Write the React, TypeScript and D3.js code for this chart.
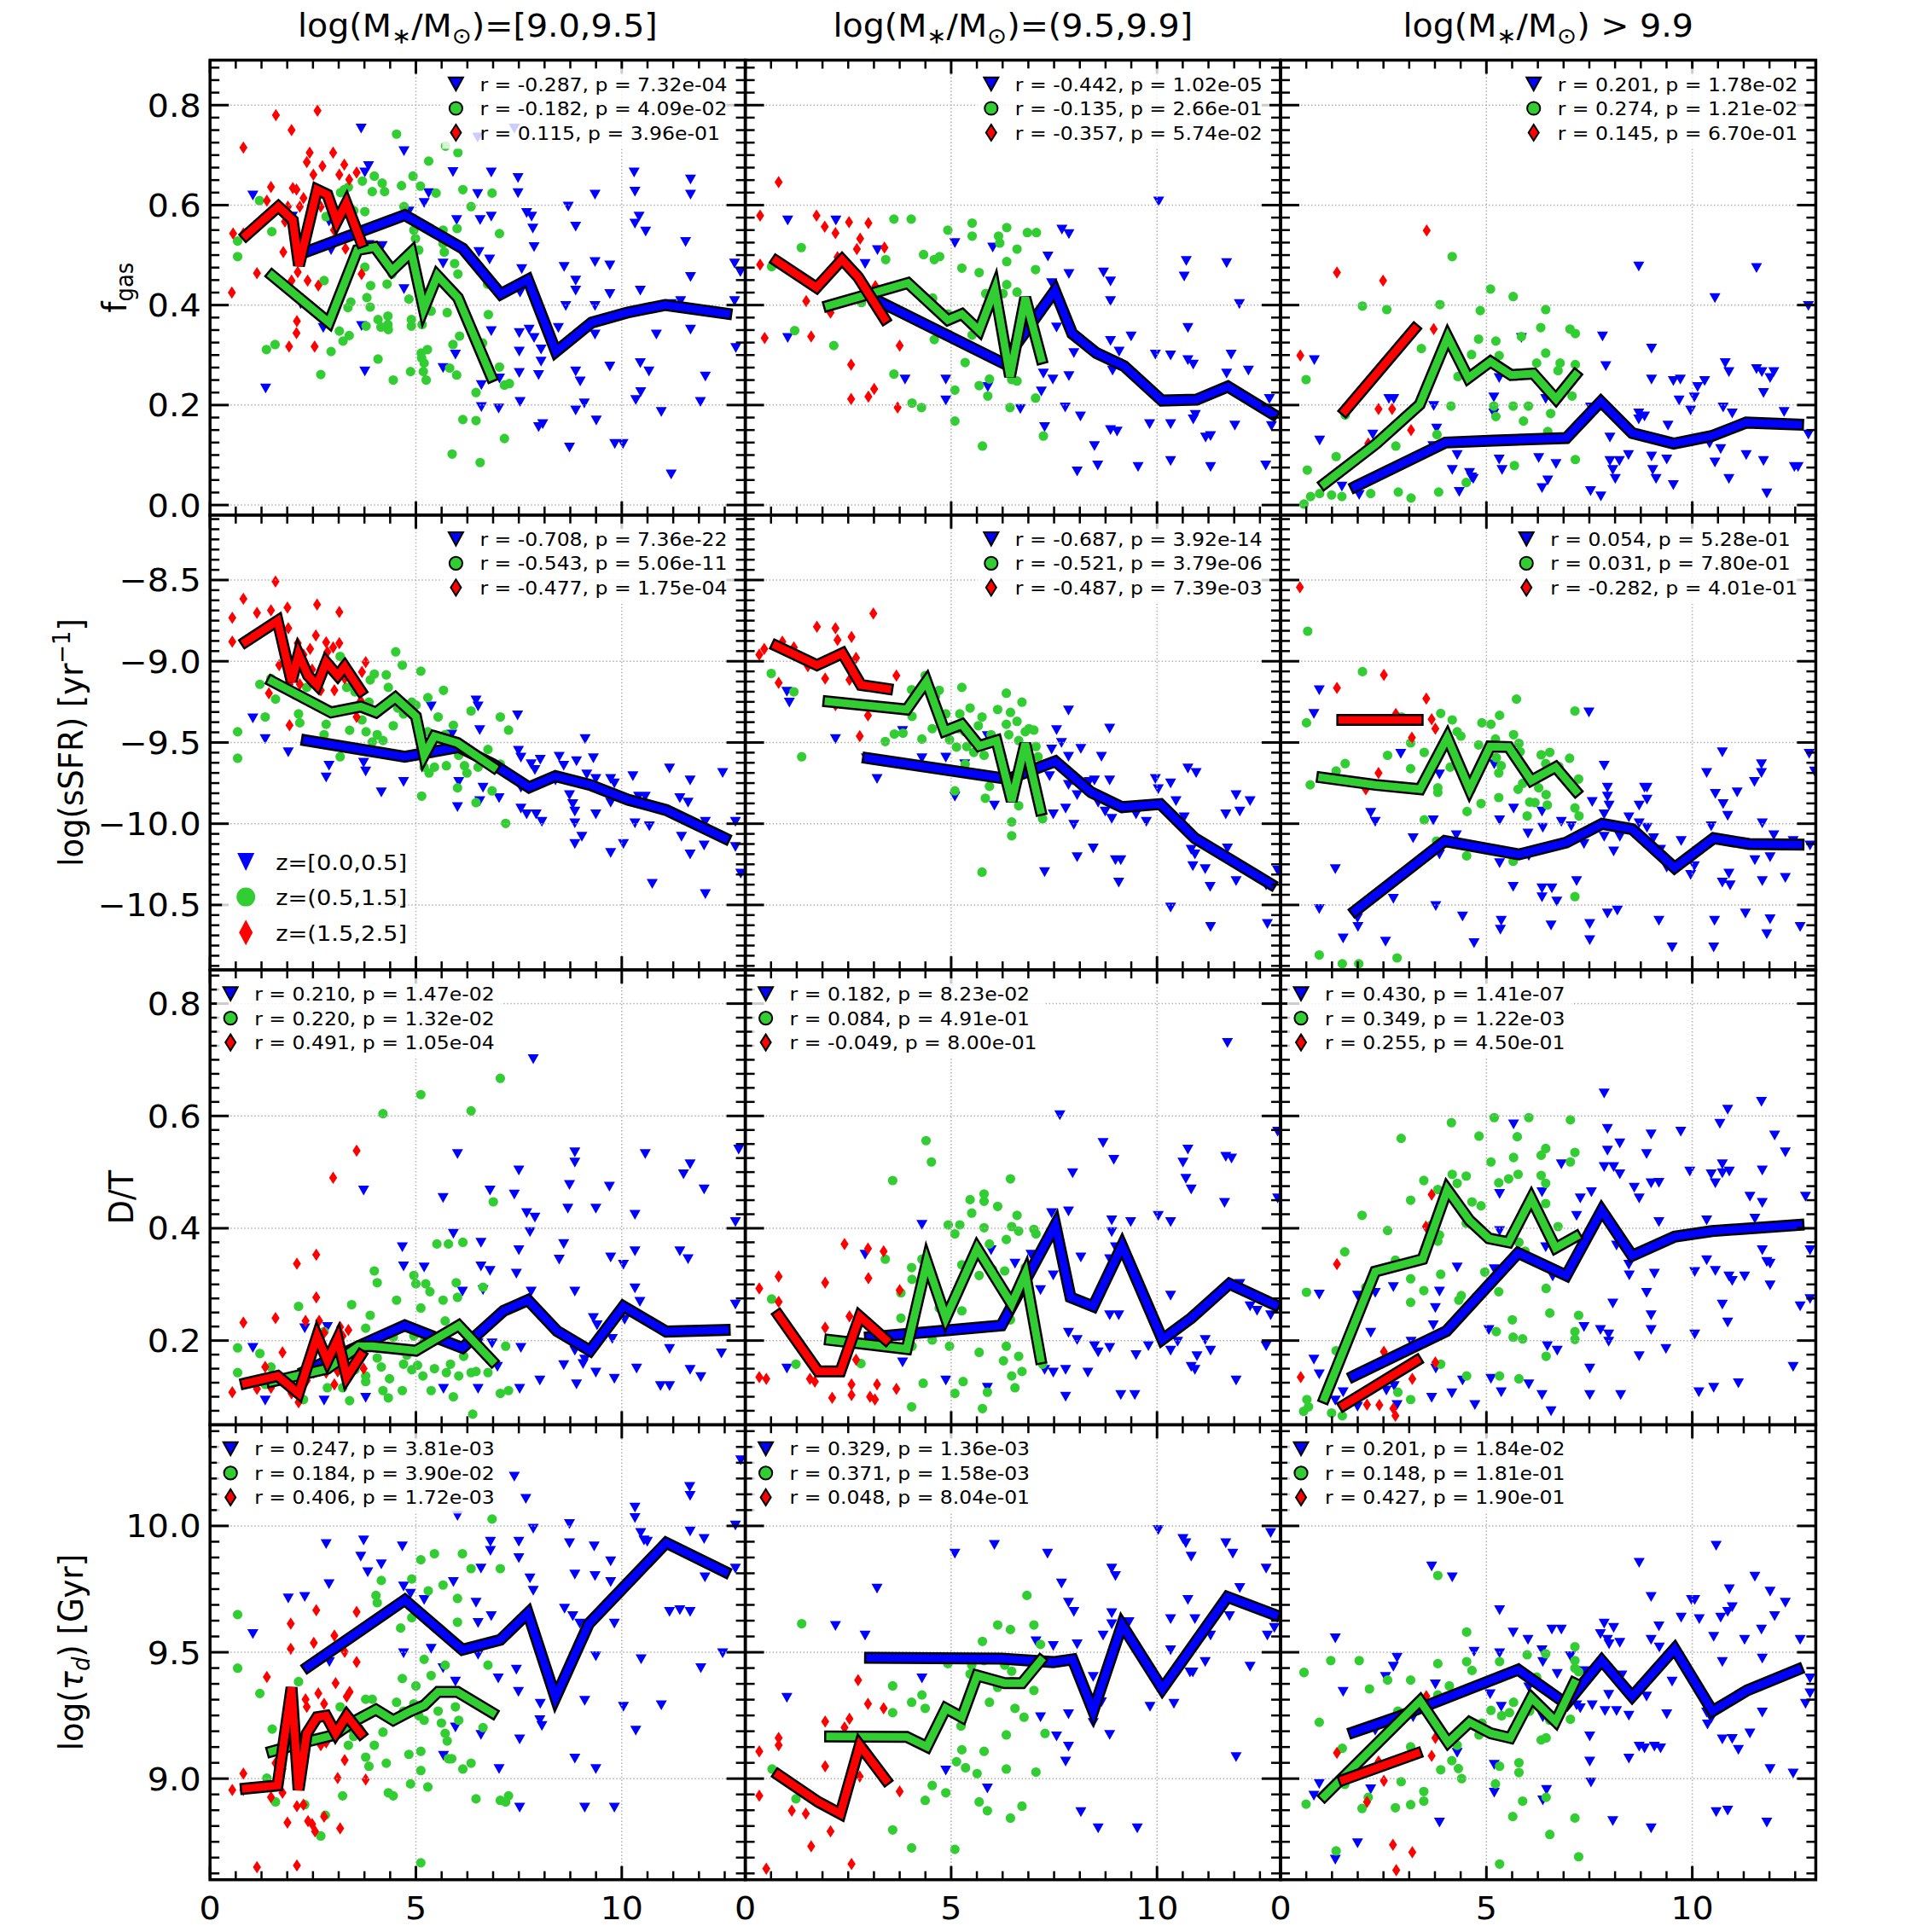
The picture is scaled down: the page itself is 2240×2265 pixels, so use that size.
import React from 'react';
import * as d3 from 'd3';

const W = 2240, H = 2265;
const SX = 1.07;
const FONT = '"DejaVu Sans", sans-serif';
const BIG = 37, LEG = 22, ZLEG = 25.5;
const BLUE = '#0000ff', GREEN = '#32cd32', RED = '#ff0000';

const colX0 = [246.2, 873.6, 1501.0];
const colW = 627.4;
const rowY0 = [70.5, 603.8, 1137.1, 1670.4];
const rowH = 533.3;

const xDomain: [number, number] = [0, 13];
const xMajor = [0, 5, 10];
const xTickLabels = ['0', '5', '10'];
const xMajorStep = 5;
const minorDiv = 8;
const yDomains: [number, number][] = [[-0.02, 0.89], [-10.9, -8.1], [0.05, 0.86], [8.6, 10.4]];
const yMajors = [[0, 0.2, 0.4, 0.6, 0.8], [-10.5, -10, -9.5, -9, -8.5], [0.2, 0.4, 0.6, 0.8], [9, 9.5, 10]];
const yTickLabels = [['0.0', '0.2', '0.4', '0.6', '0.8'], ['−10.5', '−10.0', '−9.5', '−9.0', '−8.5'], ['0.2', '0.4', '0.6', '0.8'], ['9.0', '9.5', '10.0']];
const yMajorStep = [0.2, 0.5, 0.2, 0.5];
const zLabels = ['z=[0.0,0.5]', 'z=(0.5,1.5]', 'z=(1.5,2.5]'];

// ---------- row 1: f_gas ----------
const fgasLowBlue = [1.04,0.619,1.35,0.233,2.00,0.577,2.20,0.402,2.75,0.354,2.89,0.567,2.94,0.510,3.67,0.753,3.76,0.665,3.85,0.678,3.76,0.267,3.68,0.358,3.86,0.520,4.18,0.518,4.71,0.708,4.71,0.432,4.83,0.587,5.20,0.604,5.31,0.624,5.66,0.483,5.66,0.274,5.90,0.666,5.96,0.301,5.99,0.570,6.50,0.622,6.53,0.506,6.56,0.570,6.59,0.240,6.59,0.196,6.83,0.665,6.83,0.348,6.79,0.491,6.83,0.577,7.01,0.193,7.03,0.253,7.48,0.654,7.48,0.624,7.51,0.344,7.51,0.307,7.51,0.264,7.53,0.206,7.53,0.425,7.57,0.472,7.69,0.584,7.75,0.351,7.81,0.577,7.84,0.553,7.87,0.516,7.87,0.334,7.98,0.260,7.98,0.156,8.04,0.311,8.04,0.287,8.08,0.162,8.46,0.354,8.60,0.476,8.64,0.398,8.70,0.597,8.73,0.115,8.88,0.557,8.88,0.449,8.88,0.429,8.88,0.267,8.88,0.189,8.99,0.247,9.09,0.203,9.35,0.621,9.35,0.486,9.35,0.398,9.35,0.341,9.38,0.169,9.71,0.479,9.71,0.422,9.71,0.277,9.83,0.122,10.03,0.122,10.30,0.665,10.32,0.627,10.32,0.563,10.42,0.577,10.45,0.429,10.45,0.284,10.46,0.226,10.34,0.210,10.66,0.267,10.84,0.341,10.96,0.186,11.20,0.061,11.55,0.526,11.67,0.651,11.67,0.621,11.67,0.456,11.67,0.351,11.91,0.206,12.03,0.257,12.74,0.483,12.77,0.314,12.74,0.408,12.88,0.466,11.43,0.408,10.58,0.547,10.24,0.385,11.20,0.402,6.50,0.735,7.39,0.753];
const fgasLowGreen = [0.67,0.528,0.67,0.497,1.20,0.609,1.37,0.311,1.50,0.547,1.58,0.321,2.69,0.261,2.77,0.449,2.82,0.577,2.94,0.307,3.14,0.348,3.17,0.625,3.23,0.328,3.26,0.631,3.35,0.395,3.36,0.636,3.38,0.339,3.42,0.406,3.49,0.589,3.70,0.648,3.76,0.587,3.76,0.476,3.79,0.358,3.81,0.415,3.89,0.396,3.90,0.439,3.94,0.627,3.99,0.658,4.08,0.292,4.08,0.371,4.15,0.356,4.18,0.644,4.24,0.627,4.30,0.442,4.32,0.378,4.32,0.361,4.33,0.351,4.42,0.462,4.45,0.250,4.53,0.742,4.65,0.639,4.71,0.597,4.83,0.412,4.87,0.267,4.89,0.371,4.89,0.358,4.93,0.658,4.95,0.550,4.99,0.533,5.07,0.510,5.11,0.638,5.13,0.304,5.14,0.294,5.15,0.361,5.18,0.267,5.20,0.284,5.25,0.250,5.28,0.311,5.31,0.688,5.37,0.388,5.49,0.624,5.66,0.550,5.66,0.523,5.69,0.506,5.72,0.718,5.76,0.385,5.82,0.274,5.88,0.102,5.90,0.321,5.94,0.483,5.99,0.260,6.00,0.553,6.02,0.705,6.02,0.462,6.06,0.338,6.14,0.631,6.14,0.171,6.34,0.597,6.46,0.225,6.46,0.169,6.56,0.085,6.62,0.324,6.74,0.442,6.76,0.381,6.85,0.624,7.03,0.543,7.03,0.276,7.15,0.240,7.15,0.133,7.27,0.243];
const fgasLowRed = [0.56,0.543,0.81,0.715,0.81,0.543,1.14,0.464,0.53,0.425,1.48,0.636,1.38,0.609,1.60,0.780,1.78,0.506,1.82,0.567,1.89,0.597,1.98,0.750,2.01,0.634,2.10,0.631,1.92,0.317,2.11,0.368,2.10,0.344,2.13,0.466,2.27,0.614,2.35,0.686,2.42,0.705,2.51,0.661,2.61,0.789,2.73,0.678,2.77,0.624,2.99,0.705,3.01,0.550,3.14,0.661,3.26,0.681,3.38,0.651,3.29,0.513,3.56,0.665,3.68,0.462,2.63,0.439,2.54,0.317,2.37,0.449,2.18,0.597,1.98,0.449,2.69,0.597];
const fgasLowBlueLine = [2.25,0.504,4.73,0.580,6.14,0.513,7.06,0.422,7.72,0.451,8.40,0.307,9.27,0.365,10.13,0.385,11.05,0.400,12.54,0.383];
const fgasLowGreenLine = [1.51,0.459,2.89,0.365,3.58,0.510,4.00,0.516,4.42,0.469,4.89,0.506,5.19,0.392,5.52,0.459,6.02,0.415,6.83,0.257];
const fgasLowRedLine = [0.88,0.540,1.66,0.597,2.01,0.570,2.16,0.479,2.60,0.631,2.85,0.621,3.08,0.567,3.31,0.604,3.67,0.526];

const fgasMidBlue = [1.03,0.569,2.20,0.569,1.03,0.334,2.91,0.482,3.21,0.510,5.09,0.524,6.01,0.515,7.69,0.551,7.86,0.542,7.35,0.497,7.86,0.462,8.70,0.465,8.87,0.447,8.87,0.408,7.44,0.444,7.56,0.355,7.98,0.304,8.87,0.328,9.08,0.307,9.37,0.337,8.92,0.269,9.03,0.284,9.96,0.301,10.33,0.299,10.75,0.290,10.88,0.281,11.80,0.301,12.22,0.269,11.69,0.263,10.75,0.354,10.71,0.488,10.66,0.457,11.69,0.484,12.00,0.402,10.04,0.607,7.24,0.263,7.47,0.251,7.86,0.258,7.19,0.227,4.87,0.251,4.87,0.209,3.88,0.251,5.89,0.236,6.68,0.192,7.77,0.195,8.14,0.177,7.27,0.156,8.87,0.150,9.03,0.147,8.48,0.118,9.82,0.162,10.33,0.162,10.88,0.171,10.93,0.180,11.18,0.135,11.30,0.138,11.89,0.159,12.78,0.158,12.73,0.212,8.06,0.067,8.56,0.079,9.54,0.076,10.33,0.088,11.30,0.076,12.64,0.079];
const fgasMidGreen = [0.64,0.477,1.36,0.515,1.20,0.349,2.15,0.319,2.82,0.405,3.41,0.491,3.61,0.572,4.03,0.572,4.33,0.501,4.72,0.497,4.92,0.550,5.26,0.474,5.51,0.564,5.51,0.538,5.68,0.465,6.15,0.538,6.18,0.524,6.35,0.555,6.35,0.487,6.60,0.512,6.85,0.545,7.07,0.545,7.05,0.471,6.35,0.441,6.26,0.423,5.84,0.423,6.60,0.426,4.55,0.414,4.42,0.358,4.59,0.331,4.67,0.346,4.92,0.382,5.34,0.376,5.51,0.340,5.34,0.285,5.09,0.230,5.09,0.168,5.76,0.118,5.93,0.252,5.68,0.239,5.89,0.218,6.47,0.251,6.60,0.248,6.43,0.195,7.05,0.214,7.24,0.138,4.05,0.204,4.28,0.195,3.61,0.262,3.38,0.389,4.59,0.491];
const fgasMidRed = [0.36,0.579,0.81,0.646,0.36,0.481,1.73,0.579,1.93,0.557,2.19,0.544,2.52,0.566,2.99,0.564,2.79,0.533,2.71,0.512,3.38,0.515,2.24,0.496,1.48,0.408,2.07,0.385,0.47,0.334,1.60,0.337,2.57,0.281,3.75,0.319,2.57,0.212,2.99,0.217,3.13,0.232,3.70,0.195,3.16,0.438];
const fgasMidBlueLine = [3.16,0.411,6.26,0.284,7.52,0.429,7.94,0.343,8.53,0.304,9.20,0.278,10.12,0.209,10.96,0.211,11.72,0.237,12.81,0.182];
const fgasMidGreenLine = [2.03,0.399,3.95,0.444,4.92,0.370,5.26,0.382,5.68,0.349,6.06,0.432,6.43,0.257,6.80,0.415,7.19,0.293];
const fgasMidRedLine = [0.76,0.488,1.73,0.435,2.35,0.491,2.74,0.456,3.38,0.373];

const fgasHighBlue = [0.82,0.290,0.95,0.129,1.49,0.037,1.91,0.020,2.24,0.141,2.63,0.212,3.70,0.118,3.72,0.198,3.79,0.153,4.29,0.100,4.17,0.070,4.34,0.026,4.59,0.064,4.64,0.055,4.68,0.052,5.31,0.254,5.31,0.091,5.18,0.215,5.38,0.070,5.85,0.334,6.27,0.094,6.35,0.034,6.49,0.049,6.69,0.082,7.53,0.195,7.53,0.028,7.78,0.017,7.78,0.198,7.82,0.337,7.90,0.278,8.00,0.135,8.00,0.088,8.23,0.088,8.07,0.070,8.13,0.052,8.45,0.100,8.70,0.477,8.70,0.183,8.84,0.177,9.01,0.313,9.01,0.251,9.01,0.097,9.04,0.070,9.12,0.052,9.38,0.091,9.41,0.159,9.54,0.040,9.68,0.209,9.71,0.251,9.96,0.189,10.05,0.215,10.13,0.236,10.30,0.248,10.42,0.123,10.55,0.414,10.55,0.085,10.69,0.112,10.75,0.195,10.80,0.284,10.89,0.266,10.89,0.052,10.97,0.183,11.31,0.100,11.56,0.474,11.56,0.272,11.69,0.266,11.73,0.224,11.73,0.088,11.89,0.254,11.98,0.266,11.81,0.023,12.23,0.186,12.48,0.076,12.57,0.076,12.82,0.141,12.82,0.398,9.54,0.248,8.70,0.171,5.18,0.183,6.44,0.212,2.75,0.212];
const fgasHighGreen = [0.62,0.251,0.65,0.070,0.57,0.002,0.73,0.017,0.95,0.023,1.24,0.020,1.35,0.097,1.49,0.017,1.57,0.180,1.99,0.398,2.19,0.023,2.58,0.391,2.80,0.118,2.86,0.026,3.17,0.014,3.42,0.313,3.80,0.141,3.84,0.026,3.87,0.401,4.17,0.497,4.14,0.198,4.51,0.045,4.64,0.301,4.81,0.332,4.85,0.389,5.10,0.432,5.18,0.198,5.23,0.328,5.23,0.177,5.31,0.299,5.65,0.417,5.65,0.198,5.68,0.079,5.85,0.337,5.90,0.168,6.02,0.198,6.22,0.284,6.32,0.355,6.44,0.391,6.44,0.304,6.49,0.147,6.56,0.183,6.74,0.269,6.79,0.284,7.03,0.352,7.16,0.343,7.16,0.281,7.08,0.218,7.16,0.091,4.31,0.257];
const fgasHighRed = [0.48,0.299,1.37,0.465,2.49,0.449,3.55,0.549,3.72,0.352,2.38,0.192,2.71,0.192,3.17,0.150,2.13,0.123];
const fgasHighBlueLine = [1.82,0.037,4.01,0.125,5.18,0.129,6.94,0.134,7.78,0.207,8.54,0.144,9.55,0.123,10.47,0.138,11.31,0.165,12.57,0.161];
const fgasHighGreenLine = [1.07,0.043,2.33,0.123,3.38,0.201,4.06,0.336,4.56,0.254,5.10,0.287,5.60,0.260,6.14,0.263,6.69,0.212,7.16,0.260];
const fgasHighRedLine = [1.57,0.189,3.25,0.352];

// ---------- row 2: log(sSFR) ----------
const ssfrLowBlue = [1.04,-9.352,1.34,-9.479,1.90,-9.561,2.82,-9.716,2.89,-9.643,3.73,-9.625,3.78,-9.679,4.16,-9.807,4.70,-9.743,5.37,-9.279,5.87,-9.452,6.01,-9.898,6.04,-9.743,6.46,-9.242,6.51,-9.279,6.55,-9.424,6.55,-9.861,6.63,-9.779,7.02,-9.843,7.47,-9.333,7.49,-9.552,7.55,-9.594,7.55,-9.779,7.55,-9.907,7.69,-9.943,7.80,-9.634,7.89,-9.670,7.92,-9.943,8.06,-9.989,8.02,-9.606,8.48,-9.588,8.59,-9.643,8.73,-9.825,8.81,-9.879,8.86,-9.925,8.86,-9.998,8.86,-10.125,8.90,-9.616,9.03,-10.080,9.11,-9.479,9.15,-9.697,9.31,-9.597,9.37,-9.725,9.37,-9.943,9.73,-9.725,9.73,-9.870,9.82,-9.752,10.04,-10.125,9.73,-10.180,10.27,-9.707,10.32,-9.998,10.41,-9.834,10.49,-9.870,10.57,-9.834,10.67,-10.016,10.74,-10.371,11.16,-9.661,11.41,-9.843,11.45,-10.080,11.61,-9.870,11.66,-9.734,11.66,-10.189,12.00,-10.134,12.03,-10.434,12.03,-9.989,12.45,-9.688,12.76,-9.989,12.76,-10.143,12.89,-10.307,8.39,-9.734];
const ssfrLowGreen = [0.67,-9.434,0.67,-9.597,1.21,-9.142,1.34,-9.343,1.48,-9.106,1.59,-9.233,2.15,-9.324,2.18,-9.379,2.35,-9.161,2.77,-9.452,2.82,-9.388,3.16,-8.970,3.16,-9.588,3.32,-9.161,3.39,-9.425,3.52,-9.188,3.69,-9.361,3.86,-9.252,3.89,-9.115,3.99,-9.079,4.06,-9.452,4.20,-9.488,4.28,-9.084,4.33,-9.161,4.45,-9.397,4.51,-8.942,4.56,-9.288,4.67,-9.024,4.70,-9.324,4.90,-9.252,5.00,-9.270,5.12,-9.061,5.14,-9.830,5.20,-9.652,5.29,-9.224,5.32,-9.688,5.45,-9.652,5.54,-9.343,5.67,-9.179,5.71,-9.452,5.74,-9.643,5.91,-9.394,6.01,-9.779,6.04,-9.579,6.18,-9.643,6.24,-9.688,6.34,-9.306,6.46,-9.870,6.51,-9.652,6.75,-9.543,6.85,-9.798,7.05,-9.343,7.05,-9.634,7.18,-9.998,7.25,-9.424,5.24,-9.506,5.29,-9.434,3.94,-9.497,3.79,-9.434];
const ssfrLowRed = [0.54,-8.733,0.54,-8.879,0.81,-8.615,0.81,-8.884,1.14,-8.702,1.48,-8.687,1.59,-8.509,1.88,-8.669,1.90,-8.797,2.13,-8.888,2.27,-8.960,2.43,-8.924,2.60,-8.651,2.57,-8.842,2.82,-8.884,2.85,-8.942,2.99,-8.915,3.14,-8.697,3.14,-8.888,3.19,-9.033,3.27,-9.106,3.02,-9.179,2.69,-9.179,2.43,-9.124,2.18,-9.142,1.93,-9.142,1.68,-9.024,1.43,-9.197,2.01,-9.197,3.78,-9.006,3.69,-9.066,3.66,-9.243,3.56,-9.343,1.93,-9.394,2.22,-8.951,2.48,-9.051];
const ssfrLowBlueLine = [2.35,-9.488,4.73,-9.588,6.04,-9.528,6.88,-9.634,7.75,-9.776,8.39,-9.707,9.23,-9.761,10.15,-9.852,11.08,-9.916,12.50,-10.089];
const ssfrLowGreenLine = [1.51,-9.124,2.94,-9.315,3.66,-9.279,4.03,-9.315,4.50,-9.224,5.00,-9.339,5.20,-9.579,5.45,-9.461,6.01,-9.503,6.88,-9.652];
const ssfrLowRedLine = [0.87,-8.879,1.64,-8.751,1.98,-9.124,2.15,-8.957,2.38,-9.088,2.60,-9.146,2.82,-9.006,3.10,-9.088,3.27,-9.033,3.66,-9.182];

const ssfrMidBlue = [1.01,-9.188,1.07,-9.255,2.19,-9.479,2.94,-9.597,3.20,-9.725,3.82,-9.430,4.29,-9.597,4.87,-9.594,5.09,-9.834,5.33,-9.634,5.88,-9.461,6.05,-9.889,7.27,-10.298,7.39,-9.707,7.44,-9.543,7.48,-9.943,7.56,-9.424,7.68,-9.503,7.78,-9.907,7.85,-9.303,7.85,-9.588,7.85,-9.761,7.95,-9.734,7.98,-10.007,8.06,-9.825,8.15,-9.539,8.35,-9.743,8.45,-10.152,8.48,-9.734,8.57,-9.870,8.65,-9.588,8.74,-9.925,8.85,-9.415,8.85,-9.734,8.90,-9.970,8.99,-10.225,9.07,-10.362,9.15,-9.907,9.49,-9.943,9.74,-9.989,9.96,-9.725,10.03,-9.788,10.33,-9.752,10.46,-9.861,10.66,-9.961,10.75,-9.661,10.83,-10.161,10.92,-10.189,10.87,-10.262,10.95,-9.688,11.17,-10.280,11.29,-10.389,10.33,-10.516,11.30,-10.635,11.67,-9.943,11.71,-10.152,11.92,-9.825,11.92,-10.353,12.01,-9.925,12.26,-9.861,12.65,-10.380,12.68,-10.617,12.93,-10.289,8.06,-10.207,9.12,-10.225];
const ssfrMidGreen = [0.63,-9.075,1.18,-9.188,1.37,-9.588,3.40,-9.494,3.62,-9.448,3.83,-9.443,4.04,-9.175,4.05,-9.339,4.29,-9.479,4.37,-9.088,4.40,-9.142,4.54,-9.415,4.62,-9.215,4.71,-9.179,4.87,-9.324,4.96,-9.483,5.13,-9.528,5.18,-9.415,5.21,-9.324,5.26,-9.161,5.33,-9.434,5.38,-9.525,5.46,-9.288,5.51,-9.461,5.55,-9.561,5.66,-9.397,5.75,-9.343,5.80,-9.579,5.83,-9.506,5.93,-9.770,5.83,-9.843,5.97,-9.452,6.13,-9.297,6.22,-9.579,6.34,-9.197,6.34,-9.388,6.40,-9.452,6.44,-9.315,6.47,-9.989,6.47,-10.074,6.60,-9.370,6.64,-9.488,6.64,-9.889,6.72,-9.252,6.80,-9.434,6.84,-9.588,6.89,-9.415,7.01,-9.424,7.06,-9.525,7.11,-9.588,7.22,-9.970,5.75,-10.298,5.09,-9.798,5.34,-9.634];
const ssfrMidRed = [0.34,-8.960,0.46,-8.924,0.81,-9.133,0.90,-8.879,1.18,-8.915,1.52,-9.030,1.74,-8.788,1.94,-9.106,2.19,-8.797,2.24,-8.869,2.58,-8.851,2.69,-8.979,2.53,-9.115,3.11,-8.706,2.98,-9.333,2.78,-9.461,3.67,-9.088,2.19,-9.270];
const ssfrMidBlueLine = [2.98,-9.597,6.39,-9.725,7.53,-9.616,8.40,-9.807,9.15,-9.898,10.08,-9.879,10.92,-10.089,12.76,-10.371];
const ssfrMidGreenLine = [2.02,-9.248,3.92,-9.297,4.40,-9.124,4.84,-9.430,5.26,-9.388,5.68,-9.521,6.10,-9.488,6.47,-9.861,6.80,-9.506,7.17,-9.916];
const ssfrMidRedLine = [0.76,-8.906,1.74,-9.024,2.36,-8.951,2.81,-9.146,3.45,-9.170];

const ssfrHighBlue = [0.94,-9.179,0.81,-9.324,2.92,-9.570,0.94,-10.525,1.33,-10.280,1.52,-10.707,1.87,-10.580,1.88,-10.635,2.19,-9.934,2.30,-9.989,2.55,-10.726,2.74,-10.462,3.22,-10.089,3.71,-9.980,3.77,-10.507,3.86,-9.697,3.86,-10.189,4.27,-10.071,4.42,-10.571,4.70,-10.735,5.19,-9.634,5.32,-9.980,5.32,-10.243,5.36,-10.598,5.34,-10.653,5.65,-10.389,5.66,-9.907,6.01,-10.061,6.03,-10.198,6.37,-10.025,6.35,-9.925,6.35,-10.398,6.35,-10.453,6.59,-10.398,6.57,-10.626,6.71,-10.480,6.82,-9.989,7.06,-10.016,7.19,-10.353,7.37,-10.125,7.51,-10.617,7.51,-10.717,7.49,-9.315,7.57,-9.867,7.86,-9.643,7.86,-9.943,7.86,-10.080,7.94,-9.779,7.94,-9.834,7.94,-10.553,7.98,-9.889,8.09,-10.171,8.18,-10.535,8.24,-10.080,8.46,-9.961,8.71,-9.998,8.71,-9.889,8.84,-9.779,8.90,-9.779,8.90,-9.852,8.90,-10.025,9.06,-10.089,9.19,-10.598,9.23,-10.161,9.38,-10.271,9.51,-10.762,9.73,-10.107,9.96,-10.316,10.05,-10.262,10.35,-9.688,10.46,-10.016,10.56,-9.816,10.54,-10.598,10.52,-10.762,10.73,-9.561,10.75,-9.879,10.73,-10.362,10.86,-9.952,10.89,-10.307,10.92,-10.380,11.09,-9.807,11.29,-10.553,11.51,-9.743,11.52,-10.225,11.68,-9.634,11.68,-9.688,11.70,-9.998,11.70,-10.353,11.81,-10.680,11.89,-10.207,11.89,-10.589,11.98,-10.071,12.26,-10.334,12.45,-10.107,12.62,-10.635,12.84,-9.570,12.86,-10.134,12.97,-9.679];
const ssfrHighGreen = [0.66,-8.815,0.63,-9.379,0.72,-9.761,1.35,-9.676,1.57,-9.630,1.99,-9.064,2.60,-9.579,2.94,-9.343,3.16,-9.503,3.16,-9.661,3.49,-9.561,3.49,-9.976,3.82,-9.779,3.82,-9.807,3.89,-9.321,4.12,-9.652,4.17,-9.361,4.29,-9.434,4.38,-9.461,4.53,-9.925,4.63,-9.788,4.81,-9.515,4.87,-9.876,4.89,-9.379,5.11,-9.388,5.22,-9.479,5.24,-9.594,5.30,-9.688,5.30,-9.839,5.32,-9.333,5.36,-9.643,5.65,-10.231,5.66,-9.452,5.73,-9.233,5.77,-9.788,5.79,-9.506,5.82,-9.557,5.88,-9.752,5.99,-9.952,6.05,-9.867,6.18,-9.870,6.27,-9.779,6.33,-9.576,6.44,-9.630,6.45,-9.821,6.48,-9.885,6.54,-9.561,6.76,-9.648,7.02,-9.597,7.15,-9.306,7.15,-9.903,7.24,-9.725,7.25,-9.952,7.15,-10.449,3.79,-10.107,4.52,-10.198,0.94,-10.808,1.50,-10.862,1.90,-10.862,2.83,-10.826];
const ssfrHighRed = [0.47,-8.545,1.37,-9.164,2.51,-9.084,3.54,-9.230,2.80,-9.324,3.67,-9.357,3.76,-9.415,3.19,-9.470,2.38,-9.688,2.07,-9.788];
const ssfrHighBlueLine = [1.82,-10.535,3.99,-10.107,5.79,-10.189,6.94,-10.116,7.81,-10.001,8.54,-10.034,9.57,-10.271,10.52,-10.089,11.38,-10.125,12.58,-10.129];
const ssfrHighGreenLine = [1.01,-9.716,2.31,-9.761,3.39,-9.788,4.05,-9.470,4.59,-9.788,5.09,-9.525,5.54,-9.528,6.09,-9.734,6.68,-9.652,7.17,-9.798];
const ssfrHighRedLine = [1.50,-9.361,3.33,-9.361];

// ---------- row 3: D/T ----------
const dtLowBlue = [1.04,0.187,1.34,0.093,2.30,0.222,2.77,0.093,2.85,0.224,3.73,0.467,3.78,0.098,4.67,0.366,4.70,0.332,5.20,0.330,5.45,0.206,5.66,0.454,5.67,0.114,5.91,0.390,6.01,0.532,6.13,0.287,6.51,0.195,6.51,0.114,6.58,0.332,6.58,0.374,6.63,0.290,6.80,0.467,6.80,0.324,6.85,0.195,6.98,0.153,7.39,0.460,7.44,0.319,7.50,0.503,7.50,0.361,7.52,0.114,7.55,0.187,7.69,0.427,7.77,0.393,7.80,0.287,7.89,0.419,8.01,0.129,8.48,0.344,8.59,0.372,8.59,0.156,8.69,0.435,8.73,0.477,8.86,0.535,8.86,0.517,8.86,0.287,8.86,0.182,8.90,0.122,9.06,0.158,9.10,0.166,9.31,0.240,9.37,0.435,9.37,0.143,9.70,0.474,9.73,0.348,9.77,0.203,9.82,0.132,10.04,0.335,10.32,0.424,10.32,0.359,10.32,0.293,10.36,0.150,10.44,0.269,10.57,0.532,10.94,0.119,11.16,0.185,11.16,0.119,11.41,0.359,11.50,0.496,11.61,0.345,11.66,0.514,11.66,0.148,11.92,0.135,12.00,0.469,12.42,0.177,12.76,0.411,12.76,0.264,12.84,0.540,7.85,0.701,9.40,0.227,10.07,0.237];
const dtLowGreen = [0.67,0.187,0.67,0.143,1.21,0.177,1.34,0.122,1.48,0.153,2.15,0.261,2.27,0.095,2.35,0.148,2.77,0.216,2.77,0.153,2.85,0.116,3.22,0.116,3.39,0.093,3.44,0.264,3.52,0.148,3.78,0.222,3.78,0.137,3.78,0.127,3.89,0.245,3.99,0.324,4.06,0.303,4.06,0.169,4.16,0.153,4.20,0.111,4.33,0.098,4.36,0.132,4.53,0.272,4.67,0.111,4.78,0.174,4.90,0.148,4.95,0.316,5.00,0.301,5.04,0.156,5.12,0.258,5.17,0.137,5.24,0.301,5.34,0.287,5.37,0.111,5.45,0.150,5.51,0.372,5.66,0.272,5.71,0.235,5.74,0.143,5.79,0.372,5.84,0.158,5.91,0.100,5.98,0.303,6.01,0.277,6.04,0.137,6.14,0.375,6.16,0.172,6.34,0.143,6.38,0.069,6.46,0.145,6.63,0.295,6.75,0.143,6.88,0.447,7.05,0.667,7.05,0.106,7.18,0.190,7.25,0.111,5.12,0.638,4.20,0.604,6.34,0.609,4.95,0.208,4.45,0.206,5.20,0.198,4.70,0.158];
const dtLowRed = [0.54,0.108,0.81,0.232,1.14,0.114,1.34,0.153,1.48,0.116,1.59,0.240,1.76,0.179,1.93,0.114,1.98,0.106,2.11,0.337,2.15,0.090,2.32,0.235,2.38,0.158,2.52,0.143,2.58,0.353,2.58,0.277,2.65,0.235,2.77,0.214,2.99,0.490,3.02,0.122,3.10,0.145,3.16,0.224,3.22,0.208,3.27,0.135,3.36,0.219,3.56,0.538,3.66,0.172,3.73,0.150,3.44,0.179,2.35,0.129,2.82,0.143];
const dtLowBlueLine = [2.30,0.145,3.69,0.193,4.73,0.227,6.13,0.187,7.13,0.253,7.72,0.272,8.43,0.217,9.23,0.182,10.04,0.261,11.08,0.216,12.50,0.219];
const dtLowGreenLine = [1.51,0.127,2.85,0.150,3.61,0.190,3.94,0.190,5.00,0.182,6.04,0.227,6.85,0.164];
const dtLowRedLine = [0.87,0.124,1.64,0.137,2.15,0.106,2.60,0.208,2.85,0.164,3.10,0.203,3.32,0.135,3.66,0.174];

const dtMidBlue = [1.01,0.150,2.91,0.353,3.82,0.161,4.29,0.406,4.87,0.129,5.88,0.116,5.97,0.361,7.17,0.290,7.27,0.148,7.44,0.427,7.48,0.316,7.64,0.601,7.78,0.148,7.78,0.100,7.85,0.430,7.85,0.214,7.95,0.498,8.06,0.201,8.15,0.348,8.18,0.266,8.48,0.190,8.57,0.179,8.69,0.552,8.85,0.345,8.85,0.187,8.85,0.245,8.90,0.414,8.95,0.522,8.90,0.393,8.99,0.337,9.07,0.245,9.12,0.103,9.36,0.411,9.46,0.103,9.49,0.174,9.79,0.190,10.03,0.422,10.33,0.182,10.33,0.411,10.33,0.280,10.50,0.198,10.63,0.517,10.70,0.488,10.75,0.540,10.83,0.469,10.83,0.153,10.92,0.148,10.97,0.172,11.17,0.201,11.30,0.182,11.64,0.445,11.67,0.527,11.71,0.730,11.81,0.524,11.92,0.129,12.01,0.301,12.26,0.261,12.43,0.253,12.65,0.190,12.76,0.245,12.93,0.453,12.93,0.572,8.32,0.143,8.99,0.366,7.48,0.143,6.94,0.353,6.55,0.337];
const dtMidGreen = [0.64,0.274,1.23,0.158,2.81,0.159,3.40,0.345,3.58,0.485,3.78,0.285,4.05,0.309,4.04,0.330,4.05,0.190,4.29,0.345,4.32,0.124,4.39,0.556,4.52,0.518,4.54,0.201,4.71,0.258,4.93,0.406,4.96,0.190,5.09,0.390,5.09,0.106,5.21,0.406,5.26,0.335,5.29,0.127,5.46,0.451,5.50,0.427,5.68,0.316,5.68,0.179,5.80,0.461,5.80,0.448,5.80,0.401,5.88,0.108,5.93,0.372,6.00,0.327,6.13,0.439,6.27,0.164,6.30,0.324,6.34,0.380,6.34,0.190,6.44,0.488,6.47,0.403,6.47,0.137,6.60,0.423,6.64,0.395,6.64,0.172,6.72,0.145,6.80,0.330,7.01,0.398,7.06,0.390,7.14,0.190,7.22,0.158,4.04,0.082,5.76,0.079,6.55,0.116,3.78,0.240,5.26,0.253,6.44,0.237];
const dtMidRed = [0.34,0.293,0.34,0.135,0.51,0.132,0.81,0.314,0.81,0.269,1.57,0.132,1.69,0.127,1.94,0.303,1.94,0.223,2.11,0.098,2.41,0.372,2.53,0.243,2.58,0.122,2.58,0.103,2.69,0.166,2.98,0.364,2.99,0.311,3.03,0.100,3.15,0.095,3.20,0.122,3.36,0.359,3.67,0.114,3.75,0.290];
const dtMidBlueLine = [3.03,0.206,6.22,0.227,7.53,0.406,7.90,0.277,8.45,0.261,9.15,0.369,10.13,0.202,10.83,0.240,11.76,0.301,12.85,0.264];
const dtMidGreenLine = [2.06,0.201,3.92,0.185,4.41,0.340,4.87,0.240,5.63,0.364,6.47,0.265,6.80,0.319,7.17,0.168];
const dtMidRedLine = [0.81,0.245,1.77,0.145,2.31,0.145,2.78,0.243,3.41,0.202];

const dtHighBlue = [0.81,0.166,0.94,0.282,0.94,0.140,1.33,0.093,1.52,0.108,1.87,0.280,1.87,0.082,2.19,0.214,2.30,0.285,2.57,0.111,2.74,0.295,2.76,0.119,2.83,0.085,3.17,0.198,3.67,0.098,3.71,0.227,3.76,0.258,3.77,0.150,3.86,0.287,4.16,0.106,4.29,0.330,4.42,0.129,4.72,0.085,5.06,0.219,5.11,0.132,5.19,0.327,5.32,0.461,5.32,0.395,5.36,0.108,5.66,0.585,5.88,0.353,6.03,0.122,6.35,0.103,6.35,0.464,6.44,0.366,6.48,0.190,6.57,0.074,6.61,0.314,6.72,0.182,6.82,0.514,7.19,0.422,7.28,0.453,7.37,0.224,7.51,0.150,7.51,0.103,7.55,0.464,7.77,0.219,7.86,0.640,7.86,0.509,7.94,0.577,7.94,0.538,7.97,0.211,7.97,0.198,8.07,0.266,8.09,0.509,8.16,0.369,8.24,0.551,8.24,0.496,8.26,0.103,8.46,0.335,8.47,0.316,8.59,0.472,8.71,0.453,8.71,0.172,8.89,0.532,8.89,0.285,9.00,0.567,9.00,0.480,9.00,0.245,9.00,0.219,9.08,0.319,9.19,0.481,9.19,0.411,9.36,0.185,9.72,0.572,9.94,0.501,10.06,0.322,10.06,0.211,10.16,0.108,10.35,0.414,10.35,0.343,10.46,0.496,10.52,0.116,10.56,0.480,10.56,0.324,10.67,0.586,10.73,0.514,10.73,0.498,10.73,0.264,10.86,0.611,10.86,0.232,10.89,0.314,10.90,0.501,10.97,0.306,11.12,0.124,11.27,0.314,11.40,0.456,11.52,0.417,11.68,0.625,11.70,0.503,11.70,0.445,11.70,0.361,11.81,0.340,11.89,0.337,11.89,0.298,12.00,0.565,12.26,0.535,12.45,0.153,12.62,0.261,12.75,0.456,12.86,0.361,12.86,0.274];
const dtHighGreen = [0.56,0.074,0.64,0.095,0.68,0.082,0.63,0.286,1.14,0.111,1.24,0.071,1.35,0.182,1.50,0.066,1.56,0.358,1.98,0.423,2.07,0.295,2.60,0.396,2.79,0.343,2.85,0.108,2.93,0.560,3.16,0.450,3.16,0.310,3.16,0.268,3.16,0.095,3.48,0.485,3.48,0.289,3.65,0.405,3.82,0.469,3.82,0.377,3.86,0.388,3.89,0.318,3.89,0.158,4.15,0.588,4.17,0.496,4.29,0.480,4.33,0.272,4.39,0.280,4.51,0.493,4.51,0.409,4.52,0.137,4.65,0.447,4.82,0.564,4.87,0.440,4.87,0.393,4.96,0.322,5.11,0.518,5.19,0.597,5.24,0.216,5.30,0.287,5.30,0.481,5.32,0.137,5.54,0.488,5.63,0.237,5.65,0.206,5.66,0.526,5.77,0.496,5.75,0.563,5.79,0.375,5.79,0.132,5.88,0.203,5.94,0.359,6.03,0.597,6.33,0.494,6.33,0.530,6.44,0.542,6.44,0.480,6.44,0.444,6.45,0.293,6.45,0.172,6.54,0.249,6.74,0.403,7.04,0.593,7.04,0.518,7.15,0.535,7.15,0.216,7.15,0.202,7.24,0.245];
const dtHighRed = [0.49,0.135,1.37,0.336,2.10,0.086,2.40,0.085,2.51,0.180,2.74,0.079,2.79,0.066,3.20,0.132,3.53,0.403,3.67,0.460,3.76,0.161];
const dtHighBlueLine = [1.78,0.137,4.03,0.217,5.77,0.356,6.94,0.316,7.80,0.432,8.54,0.351,9.57,0.385,10.48,0.395,12.58,0.406];
const dtHighGreenLine = [1.07,0.098,2.30,0.323,3.45,0.345,4.05,0.469,4.59,0.414,5.06,0.382,5.54,0.375,6.09,0.453,6.68,0.365,7.17,0.385];
const dtHighRedLine = [1.54,0.085,3.30,0.164];

// ---------- row 4: log(tau_d) ----------
const tauLowBlue = [1.04,9.572,1.90,9.713,2.30,9.719,2.82,9.928,2.89,9.769,2.90,9.461,3.66,9.878,3.73,9.942,3.83,9.817,4.16,9.848,4.67,9.919,4.70,9.760,4.70,9.496,4.87,9.731,5.20,9.707,5.37,9.514,5.66,9.437,5.67,9.090,5.91,9.778,5.96,9.202,6.01,10.039,5.96,9.384,6.46,9.696,6.51,9.616,6.51,9.490,6.58,9.173,6.58,9.831,6.81,9.901,6.81,9.937,6.83,9.643,7.00,9.396,7.02,9.038,7.39,10.195,7.44,9.431,7.49,9.343,7.50,9.937,7.50,9.872,7.52,8.885,7.52,9.155,7.67,10.107,7.77,9.792,7.85,9.989,7.85,9.743,8.02,9.296,8.01,9.231,8.06,9.208,8.61,9.672,8.73,9.931,8.73,10.007,8.81,9.643,8.86,9.807,8.86,9.079,8.98,9.613,9.10,9.308,9.10,8.885,9.33,9.919,9.35,9.801,9.37,9.484,9.37,9.038,9.73,9.860,9.73,9.778,9.82,9.613,9.82,8.885,10.04,9.284,10.32,10.072,10.32,10.031,10.34,9.190,10.46,9.972,10.47,9.472,10.54,9.942,10.62,9.937,10.96,9.290,11.16,9.660,11.41,9.666,11.65,10.154,11.66,10.119,11.66,9.978,11.66,9.660,11.92,9.437,12.00,9.948,12.02,9.796,12.45,9.496,12.76,10.001,12.76,9.831,12.89,10.260];
const tauLowGreen = [0.67,9.649,0.67,9.437,1.21,9.337,1.38,9.002,1.51,9.196,1.59,8.908,2.15,9.384,2.30,8.897,2.69,8.773,2.80,8.855,3.16,9.284,3.22,8.932,3.36,9.132,3.44,9.196,3.49,9.167,3.78,9.085,3.78,9.314,3.86,9.049,3.99,9.132,4.03,9.725,4.06,9.696,4.16,9.784,4.20,9.184,4.28,9.061,4.33,8.944,4.45,8.932,4.53,9.302,4.63,9.596,4.67,9.396,4.70,9.267,4.83,9.096,4.87,8.979,4.90,9.790,4.90,9.637,4.95,9.296,5.00,9.367,5.07,9.249,5.12,9.866,5.12,9.108,5.12,9.032,5.20,9.472,5.20,9.231,5.29,8.967,5.30,9.743,5.37,9.408,5.45,9.890,5.54,9.267,5.62,9.220,5.66,9.766,5.71,9.449,5.71,9.179,5.76,9.149,5.79,9.079,5.87,9.079,5.96,9.284,6.01,9.713,6.01,9.619,6.04,9.231,6.13,9.890,6.14,9.038,6.34,9.831,6.34,9.061,6.46,8.920,6.63,9.202,6.85,10.027,7.05,9.831,7.05,8.914,7.18,8.908,7.25,8.932,6.75,9.449,5.12,8.667,3.94,9.314];
const tauLowRed = [0.54,8.955,0.81,9.020,0.81,8.955,1.14,8.650,1.38,9.402,1.48,8.926,1.59,9.061,1.76,8.944,1.88,8.826,1.96,9.613,1.96,9.514,2.11,8.891,2.11,8.656,2.18,9.014,2.27,8.897,2.32,9.314,2.35,9.284,2.38,8.832,2.48,8.820,2.52,9.537,2.55,8.791,2.58,9.666,2.63,9.337,2.69,9.132,2.77,8.850,2.82,9.143,3.02,9.566,3.05,9.378,3.10,9.002,3.16,8.803,3.27,9.202,3.27,9.073,3.32,9.325,3.39,9.343,3.56,9.660,3.56,9.461,3.69,9.190,3.78,8.996,3.27,9.502,2.77,9.296,1.76,9.038];
const tauLowBlueLine = [2.38,9.443,4.73,9.707,6.13,9.510,7.05,9.549,7.72,9.655,8.39,9.320,9.20,9.613,11.08,9.933,12.50,9.819];
const tauLowGreenLine = [1.51,9.108,2.27,9.143,3.02,9.173,3.49,9.226,4.03,9.273,4.45,9.231,4.87,9.267,5.20,9.290,5.54,9.343,6.01,9.343,6.85,9.261];
const tauLowRedLine = [0.87,8.961,1.64,8.973,1.98,9.361,2.15,8.955,2.35,9.179,2.60,9.243,2.82,9.249,3.05,9.179,3.32,9.249,3.66,9.179];

const tauMidBlue = [1.01,9.320,2.19,9.604,2.91,9.566,3.20,9.752,4.29,9.396,4.87,9.032,5.09,9.890,5.88,8.961,6.05,9.925,7.06,9.543,7.17,9.243,7.34,9.890,7.48,9.525,7.56,9.167,7.68,9.772,7.78,9.067,7.85,9.255,7.85,9.126,7.85,9.696,7.98,9.660,8.06,9.531,8.15,8.867,8.45,9.402,8.45,9.220,8.57,8.803,8.65,9.302,8.69,9.566,8.85,9.173,8.90,9.831,8.90,9.655,8.90,9.611,8.99,9.801,9.32,9.619,9.52,8.803,9.83,9.284,10.03,9.984,10.33,9.631,10.33,9.508,10.41,9.296,10.63,9.948,10.70,9.931,10.75,9.707,10.80,9.420,10.83,9.878,10.87,9.420,10.92,9.631,11.17,9.461,11.30,9.566,11.67,9.931,11.76,9.643,11.84,9.890,11.92,9.085,12.01,9.754,12.26,9.443,12.65,9.831,12.68,9.566,12.85,9.596,12.76,9.972];
const tauMidGreen = [0.65,9.038,1.23,8.920,1.37,9.613,3.58,9.367,3.58,9.261,3.58,8.797,4.04,8.726,4.04,9.302,4.29,9.331,4.37,9.278,4.37,8.914,4.54,8.973,4.87,8.944,4.92,9.455,5.09,8.720,5.13,9.067,5.24,9.208,5.26,9.114,5.46,9.414,5.50,9.449,5.63,9.020,5.76,9.543,5.80,9.467,5.80,9.108,5.88,8.873,5.93,9.302,6.13,9.608,6.13,9.361,6.30,9.449,6.34,9.173,6.34,9.038,6.44,9.590,6.44,8.844,6.47,9.425,6.55,9.278,6.64,9.373,6.72,8.891,6.77,9.243,6.84,9.725,7.01,9.608,7.01,9.349,7.06,9.026,7.17,9.531,7.28,9.179,5.35,9.043,5.68,8.908,6.47,9.384];
const tauMidRed = [0.34,9.108,0.34,8.932,0.51,8.644,0.81,9.161,0.81,9.132,1.13,8.873,1.47,8.861,1.60,8.732,1.94,9.226,1.94,9.049,2.07,8.791,2.41,9.202,2.53,9.237,2.58,8.662,2.74,9.390,2.78,9.008,2.98,9.296,3.36,9.278,3.75,8.949];
const tauMidBlueLine = [3.03,9.478,6.22,9.475,7.48,9.461,7.95,9.472,8.45,9.267,9.15,9.608,10.13,9.355,11.71,9.719,12.85,9.649];
const tauMidGreenLine = [2.06,9.167,3.92,9.165,4.41,9.126,4.87,9.278,5.26,9.243,5.63,9.408,6.30,9.378,6.72,9.378,7.17,9.467];
const tauMidRedLine = [0.81,9.014,1.77,8.908,2.31,8.861,2.78,9.132,3.41,8.996];

const tauHighBlue = [0.81,8.932,0.94,8.979,1.33,9.555,1.33,8.679,1.52,9.343,1.87,8.744,2.19,8.958,2.30,9.190,2.55,9.402,2.74,9.443,2.83,9.478,3.22,9.243,3.67,9.839,3.76,9.373,3.86,8.826,4.17,9.796,4.29,9.102,4.70,9.502,5.09,9.334,5.19,8.944,5.19,9.055,5.32,9.666,5.32,9.496,5.36,9.284,5.65,9.578,6.01,9.549,6.03,9.361,6.35,9.508,6.37,9.461,6.37,9.243,6.37,8.914,6.46,8.955,6.59,9.590,6.72,9.414,6.82,9.590,7.04,9.484,7.19,9.290,7.28,9.278,7.38,9.425,7.51,9.167,7.51,9.067,7.54,8.985,7.57,9.290,7.77,9.572,7.86,9.613,7.88,9.267,7.94,9.549,7.97,9.331,7.98,9.531,8.09,9.596,8.07,8.832,8.16,9.267,8.24,9.537,8.29,9.408,8.46,9.249,8.46,9.079,8.71,9.854,8.71,9.126,8.84,9.120,8.89,9.325,9.00,9.719,9.00,9.549,9.00,8.803,9.08,9.126,9.19,9.602,9.20,9.519,9.38,9.255,9.51,9.384,9.73,9.637,9.98,9.707,10.06,9.707,10.17,9.631,10.35,9.261,10.37,9.214,10.46,9.237,10.52,9.561,10.58,9.921,10.58,8.867,10.69,9.637,10.73,9.461,10.73,9.155,10.86,9.660,10.86,8.873,10.90,9.749,10.97,9.678,10.97,9.157,11.12,9.114,11.27,9.549,11.40,9.179,11.52,9.799,11.68,9.590,11.70,9.475,11.70,9.261,11.81,8.826,11.89,9.740,11.89,9.038,12.00,9.643,12.26,9.696,12.45,9.020,12.62,9.549,12.75,9.296,12.86,9.396,12.86,9.337,9.23,9.120];
const tauHighGreen = [0.57,9.420,0.62,8.899,0.94,9.223,1.22,9.467,1.35,8.714,1.50,9.120,1.56,8.977,1.91,9.467,1.98,8.882,2.13,8.926,2.16,9.355,2.60,9.390,2.79,8.885,2.85,9.267,2.93,8.988,3.16,9.390,3.16,9.126,3.16,8.897,3.48,8.949,3.48,8.911,3.82,9.804,3.82,9.455,3.82,9.331,3.89,9.035,4.10,9.367,4.16,9.071,4.29,9.132,4.32,9.040,4.40,9.000,4.52,9.580,4.52,9.463,4.65,9.428,4.82,9.173,4.89,9.220,5.11,9.270,5.22,8.979,5.32,9.049,5.32,9.463,5.32,8.662,5.37,9.249,5.56,9.261,5.64,8.850,5.66,9.302,5.79,9.063,5.79,9.024,5.88,8.911,5.99,9.490,6.05,9.267,6.33,9.153,6.44,9.494,6.45,9.161,6.45,8.926,6.54,8.779,6.54,9.231,7.04,9.235,7.15,9.522,7.15,9.467,7.15,9.437,7.15,8.844,7.24,8.691,7.24,9.423,6.22,9.402];
const tauHighRed = [1.37,9.102,2.10,8.908,2.38,9.067,2.51,8.991,2.73,8.738,2.81,8.638,3.20,8.709,3.54,9.326,3.67,9.090,3.76,9.161];
const tauHighBlueLine = [1.78,9.184,2.83,9.243,5.77,9.431,6.94,9.296,7.80,9.467,8.54,9.325,9.57,9.514,10.49,9.267,11.33,9.349,12.56,9.431];
const tauHighGreenLine = [1.07,8.932,3.39,9.308,4.07,9.143,4.59,9.223,5.11,9.179,5.58,9.161,6.09,9.320,6.68,9.226,7.13,9.378];
const tauHighRedLine = [1.54,8.996,3.30,9.099];

// ---------- correlation legends ----------
const statsFgasLow = ['r = -0.287, p = 7.32e-04', 'r = -0.182, p = 4.09e-02', 'r = 0.115, p = 3.96e-01'];
const statsFgasMid = ['r = -0.442, p = 1.02e-05', 'r = -0.135, p = 2.66e-01', 'r = -0.357, p = 5.74e-02'];
const statsFgasHigh = ['r = 0.201, p = 1.78e-02', 'r = 0.274, p = 1.21e-02', 'r = 0.145, p = 6.70e-01'];
const statsSsfrLow = ['r = -0.708, p = 7.36e-22', 'r = -0.543, p = 5.06e-11', 'r = -0.477, p = 1.75e-04'];
const statsSsfrMid = ['r = -0.687, p = 3.92e-14', 'r = -0.521, p = 3.79e-06', 'r = -0.487, p = 7.39e-03'];
const statsSsfrHigh = ['r = 0.054, p = 5.28e-01', 'r = 0.031, p = 7.80e-01', 'r = -0.282, p = 4.01e-01'];
const statsDtLow = ['r = 0.210, p = 1.47e-02', 'r = 0.220, p = 1.32e-02', 'r = 0.491, p = 1.05e-04'];
const statsDtMid = ['r = 0.182, p = 8.23e-02', 'r = 0.084, p = 4.91e-01', 'r = -0.049, p = 8.00e-01'];
const statsDtHigh = ['r = 0.430, p = 1.41e-07', 'r = 0.349, p = 1.22e-03', 'r = 0.255, p = 4.50e-01'];
const statsTauLow = ['r = 0.247, p = 3.81e-03', 'r = 0.184, p = 3.90e-02', 'r = 0.406, p = 1.72e-03'];
const statsTauMid = ['r = 0.329, p = 1.36e-03', 'r = 0.371, p = 1.58e-03', 'r = 0.048, p = 8.04e-01'];
const statsTauHigh = ['r = 0.201, p = 1.84e-02', 'r = 0.148, p = 1.81e-01', 'r = 0.427, p = 1.90e-01'];

type PanelData = { b: number[]; g: number[]; r: number[]; bl: number[]; gl: number[]; rl: number[]; stats: string[] };
const panels: PanelData[][] = [
  [
    { b: fgasLowBlue, g: fgasLowGreen, r: fgasLowRed, bl: fgasLowBlueLine, gl: fgasLowGreenLine, rl: fgasLowRedLine, stats: statsFgasLow },
    { b: fgasMidBlue, g: fgasMidGreen, r: fgasMidRed, bl: fgasMidBlueLine, gl: fgasMidGreenLine, rl: fgasMidRedLine, stats: statsFgasMid },
    { b: fgasHighBlue, g: fgasHighGreen, r: fgasHighRed, bl: fgasHighBlueLine, gl: fgasHighGreenLine, rl: fgasHighRedLine, stats: statsFgasHigh },
  ],
  [
    { b: ssfrLowBlue, g: ssfrLowGreen, r: ssfrLowRed, bl: ssfrLowBlueLine, gl: ssfrLowGreenLine, rl: ssfrLowRedLine, stats: statsSsfrLow },
    { b: ssfrMidBlue, g: ssfrMidGreen, r: ssfrMidRed, bl: ssfrMidBlueLine, gl: ssfrMidGreenLine, rl: ssfrMidRedLine, stats: statsSsfrMid },
    { b: ssfrHighBlue, g: ssfrHighGreen, r: ssfrHighRed, bl: ssfrHighBlueLine, gl: ssfrHighGreenLine, rl: ssfrHighRedLine, stats: statsSsfrHigh },
  ],
  [
    { b: dtLowBlue, g: dtLowGreen, r: dtLowRed, bl: dtLowBlueLine, gl: dtLowGreenLine, rl: dtLowRedLine, stats: statsDtLow },
    { b: dtMidBlue, g: dtMidGreen, r: dtMidRed, bl: dtMidBlueLine, gl: dtMidGreenLine, rl: dtMidRedLine, stats: statsDtMid },
    { b: dtHighBlue, g: dtHighGreen, r: dtHighRed, bl: dtHighBlueLine, gl: dtHighGreenLine, rl: dtHighRedLine, stats: statsDtHigh },
  ],
  [
    { b: tauLowBlue, g: tauLowGreen, r: tauLowRed, bl: tauLowBlueLine, gl: tauLowGreenLine, rl: tauLowRedLine, stats: statsTauLow },
    { b: tauMidBlue, g: tauMidGreen, r: tauMidRed, bl: tauMidBlueLine, gl: tauMidGreenLine, rl: tauMidRedLine, stats: statsTauMid },
    { b: tauHighBlue, g: tauHighGreen, r: tauHighRed, bl: tauHighBlueLine, gl: tauHighGreenLine, rl: tauHighRedLine, stats: statsTauHigh },
  ],
];

// ---------- helpers ----------
function pairs(a: number[]): [number, number][] {
  const out: [number, number][] = [];
  for (let i = 0; i + 1 < a.length; i += 2) out.push([a[i], a[i + 1]]);
  return out;
}
let _ctx: CanvasRenderingContext2D | null = null;
function textW(s: string, size: number): number {
  try {
    if (!_ctx) _ctx = document.createElement('canvas').getContext('2d');
    if (_ctx) {
      _ctx.font = `${size}px "DejaVu Sans"`;
      return _ctx.measureText(s).width * SX;
    }
  } catch (e) { /* ignore */ }
  return s.length * size * 0.58 * SX;
}
function triPath(x: number, y: number, w: number, h: number) {
  return `M${x - w / 2},${y - h / 2}L${x + w / 2},${y - h / 2}L${x},${y + h / 2}Z`;
}
function diaPath(x: number, y: number, w: number, h: number) {
  return `M${x},${y - h / 2}L${x + w / 2},${y}L${x},${y + h / 2}L${x - w / 2},${y}Z`;
}
function circPath(x: number, y: number, r: number) {
  return `M${x - r},${y}a${r},${r} 0 1,0 ${2 * r},0a${r},${r} 0 1,0 ${-2 * r},0Z`;
}
function minorTicks(domain: [number, number], majorStep: number): number[] {
  const step = majorStep / minorDiv;
  const out: number[] = [];
  for (let k = Math.ceil(domain[0] / step - 1e-9); k * step <= domain[1] + 1e-9; k++) {
    const v = k * step;
    const m = v / majorStep;
    if (Math.abs(m - Math.round(m)) < 1e-6) continue;
    out.push(v);
  }
  return out;
}

function T(props: { x: number; y: number; size: number; anchor?: string; children: React.ReactNode }) {
  const { x, y, size, anchor = 'start', children } = props;
  return (
    <text transform={`translate(${x},${y}) scale(${SX},1)`} fontSize={size} fontFamily={FONT} textAnchor={anchor} fill="#000">
      {children}
    </text>
  );
}

function Panel({ r, c }: { r: number; c: number }) {
  const x0 = colX0[c], y0 = rowY0[r];
  const x1 = x0 + colW, y1 = y0 + rowH;
  const xs = d3.scaleLinear().domain(xDomain).range([x0, x1]);
  const ys = d3.scaleLinear().domain(yDomains[r]).range([y1, y0]);
  const p = panels[r][c];
  const line = d3.line<[number, number]>().x(d => xs(d[0])).y(d => ys(d[1]));
  const clipId = `clip-${r}-${c}`;

  const bPath = pairs(p.b).map(([x, y]) => triPath(xs(x), ys(y), 13, 11.5)).join('');
  const gPath = pairs(p.g).map(([x, y]) => circPath(xs(x), ys(y), 5.6)).join('');
  const rPath = pairs(p.r).map(([x, y]) => diaPath(xs(x), ys(y), 9.5, 14.5)).join('');

  const xMin = minorTicks(xDomain, xMajorStep);
  const yMin = minorTicks(yDomains[r], yMajorStep[r]);
  const xMaj = xMajor.filter(v => v >= xDomain[0] && v <= xDomain[1]);
  const yMaj = yMajors[r];

  const tickEls: React.ReactNode[] = [];
  const XM = 16, XN = 10, YM = 22, YN = 11;
  xMaj.forEach((v, i) => {
    const X = xs(v);
    tickEls.push(<line key={`xb${i}`} x1={X} x2={X} y1={y1} y2={y1 - XM} stroke="#000" strokeWidth={3} />);
    tickEls.push(<line key={`xt${i}`} x1={X} x2={X} y1={y0} y2={y0 + XM} stroke="#000" strokeWidth={3} />);
  });
  xMin.forEach((v, i) => {
    const X = xs(v);
    tickEls.push(<line key={`xnb${i}`} x1={X} x2={X} y1={y1} y2={y1 - XN} stroke="#000" strokeWidth={2.5} />);
    tickEls.push(<line key={`xnt${i}`} x1={X} x2={X} y1={y0} y2={y0 + XN} stroke="#000" strokeWidth={2.5} />);
  });
  yMaj.forEach((v, i) => {
    const Y = ys(v);
    tickEls.push(<line key={`yl${i}`} x1={x0} x2={x0 + YM} y1={Y} y2={Y} stroke="#000" strokeWidth={3} />);
    tickEls.push(<line key={`yr${i}`} x1={x1} x2={x1 - YM} y1={Y} y2={Y} stroke="#000" strokeWidth={3} />);
  });
  yMin.forEach((v, i) => {
    const Y = ys(v);
    tickEls.push(<line key={`ynl${i}`} x1={x0} x2={x0 + YN} y1={Y} y2={Y} stroke="#000" strokeWidth={2.5} />);
    tickEls.push(<line key={`ynr${i}`} x1={x1} x2={x1 - YN} y1={Y} y2={Y} stroke="#000" strokeWidth={2.5} />);
  });

  // stats legend
  const upperRight = r < 2;
  const widths = p.stats.map(s => textW(s, LEG));
  const maxW = Math.max(...widths);
  const textX = upperRight ? x1 - 21 - maxW : x0 + 52;
  const markX = textX - 28;
  const rowsY = [y0 + 28, y0 + 56.5, y0 + 85];

  const lineEls = (pts: number[], color: string, key: string) => {
    const d = line(pairs(pts)) || '';
    return (
      <g key={key}>
        <path d={d} fill="none" stroke="#000" strokeWidth={14} strokeLinejoin="miter" strokeMiterlimit={4} strokeLinecap="square" />
        <path d={d} fill="none" stroke={color} strokeWidth={9} strokeLinejoin="miter" strokeMiterlimit={4} strokeLinecap="square" />
      </g>
    );
  };

  return (
    <g>
      <defs>
        <clipPath id={clipId}>
          <rect x={x0} y={y0} width={colW} height={rowH} />
        </clipPath>
      </defs>
      <g clipPath={`url(#${clipId})`}>
        <path d={bPath} fill={BLUE} />
        <path d={gPath} fill={GREEN} />
        <path d={rPath} fill={RED} />
        {xMaj.map((v, i) => (
          <line key={`gx${i}`} x1={xs(v)} x2={xs(v)} y1={y0} y2={y1} stroke="#b0b0b0" strokeWidth={1.5} strokeDasharray="1.5,2.5" />
        ))}
        {yMaj.map((v, i) => (
          <line key={`gy${i}`} x1={x0} x2={x1} y1={ys(v)} y2={ys(v)} stroke="#b0b0b0" strokeWidth={1.5} strokeDasharray="1.5,2.5" />
        ))}
        {lineEls(p.bl, BLUE, 'lb')}
        {lineEls(p.gl, GREEN, 'lg')}
        {lineEls(p.rl, RED, 'lr')}
      </g>
      {tickEls}
      <rect x={x0} y={y0} width={colW} height={rowH} fill="none" stroke="#000" strokeWidth={3.5} />
      {/* correlation legend */}
      <rect x={markX - 16} y={y0 + 10} width={textX + maxW + 8 - (markX - 16)} height={94} fill="#fff" fillOpacity={0.8} />
      <path d={triPath(markX, rowsY[0], 17, 15.5)} fill={BLUE} stroke="#000" strokeWidth={2} />
      <path d={circPath(markX, rowsY[1], 7.6)} fill={GREEN} stroke="#000" strokeWidth={2} />
      <path d={diaPath(markX, rowsY[2], 12, 19)} fill={RED} stroke="#000" strokeWidth={2} />
      {p.stats.map((s, i) => (
        <T key={`st${i}`} x={textX} y={rowsY[i] + LEG * 0.364} size={LEG}>{s}</T>
      ))}
      {r === 1 && c === 0 && (
        <g>
          <rect x={x0 + 14} y={y1 - 152} width={200} height={138} fill="#fff" fillOpacity={0.8} />
          <path d={triPath(x0 + 42, y1 - 126.5, 20, 21)} fill={BLUE} />
          <path d={circPath(x0 + 42, y1 - 85.5, 11)} fill={GREEN} />
          <path d={diaPath(x0 + 42, y1 - 43.8, 16, 30)} fill={RED} />
          {zLabels.map((s, i) => (
            <T key={`z${i}`} x={x0 + 77} y={y1 - [126.5, 85.5, 43.8][i] + ZLEG * 0.364} size={ZLEG}>{s}</T>
          ))}
        </g>
      )}
      {c === 0 && yMaj.map((v, i) => (
        <T key={`yl${i}`} x={x0 - 10.5} y={ys(v) + BIG * 0.364} size={BIG} anchor="end">{yTickLabels[r][i]}</T>
      ))}
      {r === 3 && xMaj.map((v, i) => (
        <T key={`xl${i}`} x={xs(v)} y={y1 + 46} size={BIG} anchor="middle">{xTickLabels[i]}</T>
      ))}
    </g>
  );
}

function ColumnTitle({ c }: { c: number }) {
  const cx = colX0[c] + colW / 2;
  const fs = BIG;
  const sub = fs * 0.7;
  const sh = fs * 0.22;
  const tails = [')=[9.0,9.5]', ')=(9.5,9.9]', ') > 9.9'];
  return (
    <T x={cx} y={43} size={fs} anchor="middle">
      <tspan>log(M</tspan>
      <tspan fontSize={sub} dy={sh}>∗</tspan>
      <tspan dy={-sh}>/M</tspan>
      <tspan fontSize={sub} dy={sh}>⊙</tspan>
      <tspan dy={-sh}>{tails[c]}</tspan>
    </T>
  );
}

function YLabel({ r }: { r: number }) {
  const cy = rowY0[r] + rowH / 2;
  const xs = [135, 84, 143, 84];
  const fs = BIG;
  const sub = fs * 0.7;
  let content: React.ReactNode;
  if (r === 0) {
    content = (<>
      <tspan>f</tspan>
      <tspan fontSize={sub} dy={fs * 0.2}>gas</tspan>
    </>);
  } else if (r === 1) {
    content = (<>
      <tspan>log(sSFR) [yr</tspan>
      <tspan fontSize={sub} dy={-fs * 0.38}>−1</tspan>
      <tspan dy={fs * 0.38}>]</tspan>
    </>);
  } else if (r === 2) {
    content = <tspan>D/T</tspan>;
  } else {
    content = (<>
      <tspan>log(</tspan>
      <tspan fontStyle="italic">τ</tspan>
      <tspan fontSize={sub} fontStyle="italic" dy={fs * 0.2}>d</tspan>
      <tspan dy={-fs * 0.2}>) [Gyr]</tspan>
    </>);
  }
  return (
    <text transform={`translate(${xs[r] + 13},${cy}) scale(${SX},1) rotate(-90)`} fontSize={fs} fontFamily={FONT} textAnchor="middle" fill="#000">
      {content}
    </text>
  );
}

export default function App() {
  const rows = [0, 1, 2, 3];
  const cols = [0, 1, 2];
  return (
    <svg width={W} height={H} viewBox={`0 0 ${W} ${H}`} style={{ position: 'absolute', left: 0, top: 0, display: 'block', background: '#fff' }}>
      <rect x={0} y={0} width={W} height={H} fill="#fff" />
      {rows.map(r => cols.map(c => <Panel key={`${r}-${c}`} r={r} c={c} />))}
      {cols.map(c => <ColumnTitle key={`t${c}`} c={c} />)}
      {rows.map(r => <YLabel key={`yl${r}`} r={r} />)}
    </svg>
  );
}
